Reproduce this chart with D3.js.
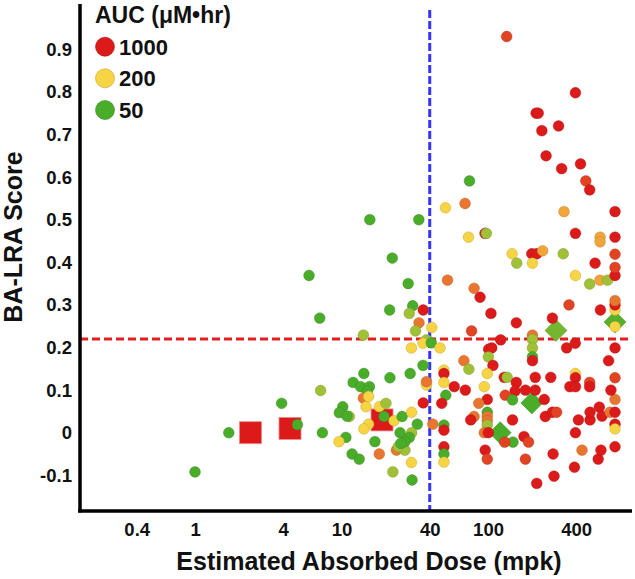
<!DOCTYPE html>
<html>
<head>
<meta charset="utf-8">
<script src="https://cdn.jsdelivr.net/npm/d3@7"></script>
<style>
  html, body { margin: 0; padding: 0; background: #fff; }
  svg { display: block; font-family: "Liberation Sans", Arial, Helvetica, sans-serif; }
</style>
</head>
<body>
<svg id="chart" width="635" height="579"></svg>
<script>
// ---------------- data ----------------
const xTickValues = [0.4, 1, 4, 10, 40, 100, 400];
const xTickLabels = ["0.4", "1", "4", "10", "40", "100", "400"];
const yTickValues = [-0.1, 0, 0.1, 0.2, 0.3, 0.4, 0.5, 0.6, 0.7, 0.8, 0.9];
const yTickLabels = ["-0.1", "0", "0.1", "0.2", "0.3", "0.4", "0.5", "0.6", "0.7", "0.8", "0.9"];

const legendLabels = ["1000", "200", "50"];
const legendAuc = [1000, 200, 50];
const legendTitle = "AUC (\u03BCM\u2022hr)";

const doseThreshold = 40;
const scoreThreshold = 0.22;

// circles: estimated absorbed dose (mpk), BA-LRA score, AUC (uM*hr)
const doses = [
  1.7, 1.0, 3.9, 5.0, 7.4, 7.2, 6.0, 7.1, 22.2, 15.6, 33.7,
  28.5, 30.6, 29, 21.3, 36.1, 33.8, 32, 41.3, 14.1, 38, 36, 41, 30, 47,
  36, 29.4, 21.4, 14.2, 12.0, 13.5, 15.5, 15, 14.1, 14.7, 15.3, 10.2, 9.66, 11.3, 10.9,
  18.1, 20.1, 19.5, 22.8, 15.3, 14.2, 10.7, 9.6, 11.8, 13.2, 16.9, 18.1, 23.7, 27.1,
  25.9, 30.1, 32.9, 25.1, 30.1, 29, 27.1, 24.4, 25.4, 30, 22.4, 30.3,
  36.1, 38, 38, 42, 51.5, 48.3, 50, 50, 50, 50, 50, 50, 50, 50,
  52.9, 58.8, 70, 68.4, 74, 77.2, 80.3, 88.2, 104.7, 101, 106, 100.5, 108, 98.8, 94.3,
  98.8, 86.4, 98.8, 98.8, 98.8, 98.8, 94.3, 100.5, 80.3, 76.2, 95.6, 98.8,
  122, 156, 129, 135, 156, 153, 131, 147, 180, 210, 210, 268, 242, 246, 275, 294,
  147, 176, 189, 148, 130, 180, 278, 282, 215, 389, 438, 565, 590, 395, 414, 497, 497,
  575, 600, 681, 736, 736, 736, 736, 736, 690, 736, 665, 736, 736, 736, 736, 736,
  585, 357, 275, 344, 394, 201, 201, 201, 201, 201, 395, 395, 362, 395, 494, 494,
  538, 395, 494, 580, 655, 736, 736, 736, 326, 199, 215, 236, 146, 157, 201,
  134, 395, 213, 220, 233, 303, 249, 318, 428, 465, 494, 74.7, 69.7, 51.2, 330, 736,
  73.5, 95.4, 97.4, 395, 582, 582, 736
];
const scores = [
  0.0, -0.092, 0.069, 0.019, 0.0, 0.099, 0.369, 0.269, 0.41, 0.50, 0.50,
  0.35, 0.298, 0.28, 0.288, 0.288, 0.258, 0.239, 0.247, 0.229, 0.218, 0.21, 0.211, 0.199, 0.199,
  0.158, 0.139, 0.129, 0.139, 0.118, 0.108, 0.108, 0.098, 0.081, 0.061, 0.085, 0.061, 0.047, 0.038, 0.039,
  0.061, 0.069, 0.038, 0.028, 0.02, 0.009, -0.011, -0.021, -0.05, -0.062, -0.021, -0.05, -0.041, -0.041,
  0.038, 0.048, 0.02, 0.0, 0.0, -0.011, -0.021, -0.033, -0.025, -0.07, -0.092, -0.111,
  0.07, 0.112, 0.12, 0.02, 0.088, 0.069, 0.147, 0.139, 0.118, 0.018, 0.006, -0.033, -0.05, -0.069,
  0.358, 0.108, 0.1, 0.169, 0.149, 0.239, 0.339, 0.318, 0.28, 0.196, 0.199, 0.178, 0.158, 0.139, 0.108,
  0.078, 0.069, 0.048, 0.038, 0.028, 0.018, 0.0, 0.0, 0.038, 0.03, -0.041, -0.062,
  0.218, 0.258, 0.13, 0.13, 0.118, 0.098, 0.088, 0.077, 0.1, 0.1, 0.13, 0.13, 0.078, 0.038, 0.048, 0.048,
  0.03, -0.009, -0.022, -0.022, -0.022, -0.062, -0.05, -0.102, -0.119, -0.081, -0.041, -0.062, -0.041, 0.0, 0.03, 0.03, 0.048,
  0.06, 0.039, 0.048, 0.048, 0.02, 0.009, -0.033, 0.078, 0.1, 0.129, 0.169, 0.199, 0.249, 0.288, 0.3, 0.31,
  0.288, 0.3, 0.269, 0.199, 0.21, 0.229, 0.219, 0.199, 0.178, 0.169, 0.139, 0.129, 0.108, 0.108, 0.118, 0.108,
  0.398, 0.369, 0.349, 0.358, 0.358, 0.369, 0.388, 0.419, 0.42, 0.42, 0.42, 0.427, 0.42, 0.398, 0.398,
  0.93, 0.798, 0.75, 0.75, 0.709, 0.72, 0.65, 0.62, 0.631, 0.591, 0.57, 0.591, 0.538, 0.528, 0.519, 0.519,
  0.459, 0.468, 0.468, 0.468, 0.459, 0.448, 0.459
];
const aucs = [
  50, 50, 50, 50, 50, 100, 50, 50, 50, 50, 50,
  50, 50, 100, 50, 1000, 450, 100, 200, 100, 100, 200, 50, 200, 200,
  50, 50, 50, 50, 50, 50, 50, 50, 450, 200, 200, 50, 50, 100, 50,
  200, 100, 50, 200, 200, 200, 50, 200, 50, 50, 50, 450, 450, 100,
  50, 200, 50, 50, 100, 50, 50, 100, 50, 200, 100, 50,
  1000, 200, 450, 450, 50, 1000, 200, 1000, 200, 50, 1000, 1000, 50, 200,
  450, 1000, 1000, 450, 100, 700, 450, 1000, 1000, 1000, 1000, 100, 1000, 200, 200,
  1000, 450, 50, 450, 450, 100, 450, 1000, 450, 1000, 1000, 700,
  1000, 1000, 1000, 100, 1000, 1000, 700, 50, 1000, 1000, 1000, 1000, 1000, 1000, 1000, 700,
  1000, 1000, 700, 50, 700, 700, 1000, 1000, 1000, 1000, 450, 1000, 1000, 1000, 1000, 1000, 1000,
  1000, 1000, 450, 1000, 1000, 200, 1000, 450, 1000, 700, 1000, 1000, 200, 200, 1000, 450,
  1000, 700, 1000, 1000, 1000, 450, 100, 100, 50, 1000, 200, 1000, 1000, 1000, 700, 1000,
  1000, 200, 100, 300, 100, 1000, 700, 700, 100, 1000, 1000, 300, 200, 100, 200,
  700, 1000, 1000, 1000, 1000, 1000, 1000, 1000, 1000, 700, 1000, 50, 450, 200, 300, 1000,
  200, 1000, 100, 1000, 300, 300, 1000
];

// large red squares
const squareDoses = [2.39, 4.45, 18.9];
const squareScores = [0.0, 0.01, 0.03];
const squareAucs = [1000, 1000, 1000];

// green diamonds
const diamondDoses = [121, 199, 291, 736];
const diamondScores = [0.0, 0.07, 0.24, 0.26];
const diamondAucs = [50, 50, 70, 55];

// ---------------- chart ----------------
const svg = d3.select("#chart");

const x = d3.scaleLog().domain([0.164, 961]).range([80, 632]);
const y = d3.scaleLinear().domain([-0.1838, 1.0063]).range([511, 4]);

const color = d3.scaleLog()
  .domain([50, 200, 1000])
  .range(["#4aad2a", "#f6d443", "#dc1a1a"])
  .interpolate(d3.interpolateRgb)
  .clamp(true);

const points = doses.map((d, i) => ({ dose: d, score: scores[i], auc: aucs[i] }));
const squares = squareDoses.map((d, i) => ({ dose: d, score: squareScores[i], auc: squareAucs[i] }));
const diamonds = diamondDoses.map((d, i) => ({ dose: d, score: diamondScores[i], auc: diamondAucs[i] }));

// reference lines
svg.append("line")
  .attr("x1", x(doseThreshold)).attr("x2", x(doseThreshold))
  .attr("y1", 10).attr("y2", 511)
  .attr("stroke", "#3535ff").attr("stroke-width", 3)
  .attr("stroke-dasharray", "8,3");

svg.append("line")
  .attr("x1", 80).attr("x2", 632)
  .attr("y1", y(scoreThreshold)).attr("y2", y(scoreThreshold))
  .attr("stroke", "#e21e1e").attr("stroke-width", 3)
  .attr("stroke-dasharray", "8,4");

// squares
const sq = 22;
svg.append("g").selectAll("rect").data(squares).join("rect")
  .attr("x", d => x(d.dose) - sq / 2)
  .attr("y", d => y(d.score) - sq / 2)
  .attr("width", sq).attr("height", sq)
  .attr("fill", d => color(d.auc))
  .attr("stroke", "#ee8a8a").attr("stroke-width", 0.8);

// diamonds
const dm = 11;
svg.append("g").selectAll("path").data(diamonds).join("path")
  .attr("d", d => {
    const cx = x(d.dose), cy = y(d.score);
    return `M${cx},${cy - dm}L${cx + dm},${cy}L${cx},${cy + dm}L${cx - dm},${cy}Z`;
  })
  .attr("fill", d => color(d.auc))
  .attr("stroke", d => d3.color(color(d.auc)).darker(0.3))
  .attr("stroke-width", 0.6);

// circles
svg.append("g").selectAll("circle").data(points).join("circle")
  .attr("cx", d => x(d.dose))
  .attr("cy", d => y(d.score))
  .attr("r", 5.4)
  .attr("fill", d => color(d.auc))
  .attr("stroke", d => d3.color(color(d.auc)).darker(0.8))
  .attr("stroke-opacity", 0.55)
  .attr("stroke-width", 0.7);

// axes
const xAxis = d3.axisBottom(x).tickValues(xTickValues)
  .tickFormat((d, i) => xTickLabels[i]).tickSize(0).tickPadding(12);
const gx = svg.append("g").attr("transform", "translate(0,511)").call(xAxis);
gx.select(".domain").remove();
gx.selectAll("text").attr("font-size", 18.5).attr("font-weight", "bold").attr("fill", "#111")
  .attr("font-family", "'Liberation Sans', Arial, sans-serif");

const yAxis = d3.axisLeft(y).tickValues(yTickValues)
  .tickFormat((d, i) => yTickLabels[i]).tickSize(0).tickPadding(8);
const gy = svg.append("g").attr("transform", "translate(80,0)").call(yAxis);
gy.select(".domain").remove();
gy.selectAll("text").attr("font-size", 18.5).attr("font-weight", "bold").attr("fill", "#111")
  .attr("font-family", "'Liberation Sans', Arial, sans-serif");

// axis lines (thick)
svg.append("line").attr("x1", 80).attr("x2", 80).attr("y1", 4).attr("y2", 512.5)
  .attr("stroke", "#000").attr("stroke-width", 3.5);
svg.append("line").attr("x1", 78.25).attr("x2", 632).attr("y1", 511).attr("y2", 511)
  .attr("stroke", "#000").attr("stroke-width", 3.5);

// axis titles
svg.append("text")
  .attr("x", 369).attr("y", 570)
  .attr("text-anchor", "middle")
  .attr("font-size", 25).attr("font-weight", "bold").attr("fill", "#111")
  .text("Estimated Absorbed Dose (mpk)");

svg.append("text")
  .attr("transform", "translate(22,237) rotate(-90)")
  .attr("text-anchor", "middle")
  .attr("font-size", 25).attr("font-weight", "bold").attr("fill", "#111")
  .text("BA-LRA Score");

// legend
const lg = svg.append("g");
lg.append("text").attr("x", 95).attr("y", 23)
  .attr("font-size", 23).attr("font-weight", "bold").attr("fill", "#111")
  .text(legendTitle);
const legendY = [46.7, 78.3, 110];
legendLabels.forEach((lab, i) => {
  const c = color(legendAuc[i]);
  lg.append("circle").attr("cx", 105).attr("cy", legendY[i]).attr("r", 9.5)
    .attr("fill", c).attr("stroke", d3.color(c).darker(0.7)).attr("stroke-opacity", 0.6).attr("stroke-width", 1);
  lg.append("text").attr("x", 119).attr("y", legendY[i] + 8)
    .attr("font-size", 22).attr("font-weight", "bold").attr("fill", "#111")
    .text(lab);
});
</script>
</body>
</html>
